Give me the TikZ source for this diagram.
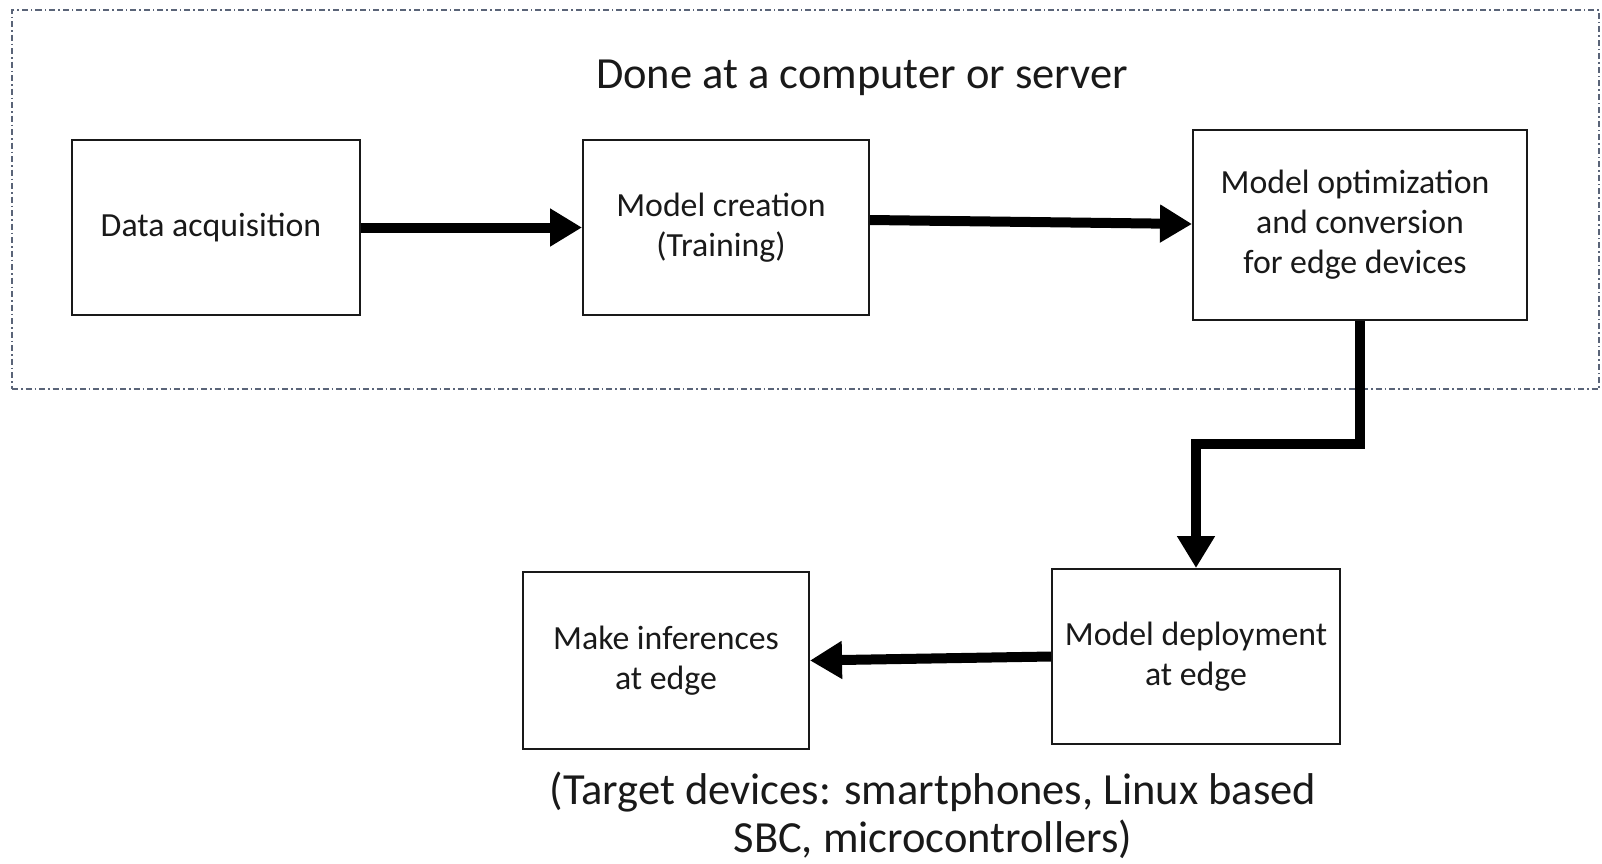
\documentclass[tikz,border=0pt]{standalone}
\usepackage{fontspec}
\setmainfont{Carlito}
\usetikzlibrary{arrows.meta}
\definecolor{framecol}{RGB}{90,100,120}
\definecolor{ink}{RGB}{25,25,25}
\begin{document}
\begin{tikzpicture}[x=1pt,y=-1pt,
  box/.style={draw=ink, line width=2pt, inner sep=0pt, align=center, text=ink,
    font=\fontsize{33.8}{40}\selectfont},
  arr/.style={line width=10pt, -{Triangle[length=32pt,width=36pt]}},
  frm/.style={draw=framecol, line width=1.5pt, inner sep=0pt,
    dash pattern=on 6pt off 3pt on 1.5pt off 3pt}]
\useasboundingbox (0,0) rectangle (1602,863);
\node[frm, minimum width=1587pt, minimum height=379pt] (frame) at (805.5,199.5) {};
\node[text=ink, font=\fontsize{44.5}{48}\selectfont] (title) at (862,78) {Done at a computer or server};
\node[box, minimum width=288pt, minimum height=175pt] (da) at (216,227.5) {Data acquisition\hspace*{10pt}};
\node[box, minimum width=286pt, minimum height=175pt] (mc) at (726,227.5) {Model creation\hspace*{10pt}\\(Training)\hspace*{10pt}};
\node[box, minimum width=334pt, minimum height=190pt] (mo) at (1360,225) {Model optimization\hspace*{10pt}\\and conversion\hspace*{10pt}\\for edge devices\hspace*{10pt}};
\node[box, minimum width=288pt, minimum height=175pt] (md) at (1196,656.5) {Model deployment\\at edge};
\node[box, minimum width=286pt, minimum height=177pt] (mi) at (666,660.5) {Make inferences\\at edge};
\node[align=center, text=ink, font=\fontsize{44.5}{48}\selectfont] (note) at (933,815) {(Target devices: smartphones, Linux based\\SBC, microcontrollers)};
\coordinate (k) at (0,444);
\draw[arr] (da.east) -- (mc.west);
\draw[arr] ([yshift=7.5pt]mc.east) -- ([yshift=1pt]mo.west);
\draw[arr] (mo.south) -- (mo.south |- k) -| (md.north);
\draw[arr] (md.west) -- (mi.east);
\end{tikzpicture}
\end{document}
